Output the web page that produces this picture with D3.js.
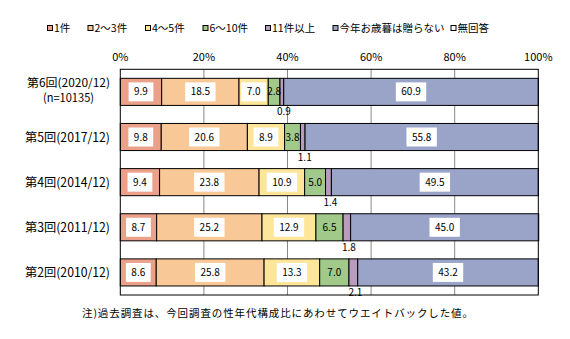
<!DOCTYPE html>
<html><head><meta charset="utf-8">
<script src="https://cdn.jsdelivr.net/npm/d3@7"></script>
<style>
body{margin:0;background:#fff;}
text{font-family:"MS Gothic","Noto Sans CJK JP",sans-serif;fill:#000;}
</style></head>
<body>
<svg id="c" width="570" height="339"></svg>
<script>
const categories = ["第6回(2020/12)", "第5回(2017/12)", "第4回(2014/12)", "第3回(2011/12)", "第2回(2010/12)"];
const subLabels = ["(n=10135)", "", "", "", ""];
const seriesNames = ["1件", "2～3件", "4～5件", "6～10件", "11件以上", "今年お歳暮は贈らない", "無回答"];
const seriesColors = ["#EBA08A", "#F9C897", "#FDE59A", "#A0C98A", "#B89BBE", "#9AA3C8", "#FFFFFF"];
const v1 = [9.9, 9.8, 9.4, 8.7, 8.6];
const v2_3 = [18.5, 20.6, 23.8, 25.2, 25.8];
const v4_5 = [7.0, 8.9, 10.9, 12.9, 13.3];
const v6_10 = [2.8, 3.8, 5.0, 6.5, 7.0];
const v11plus = [0.9, 1.1, 1.4, 1.8, 2.1];
const vNone = [60.9, 55.8, 49.5, 45.0, 43.2];
const vNA = [0, 0, 0, 0, 0];
const tickValues = [0, 20, 40, 60, 80, 100];
const note = "注)過去調査は、今回調査の性年代構成比にあわせてウエイトバックした値。";

const series = [v1, v2_3, v4_5, v6_10, v11plus, vNone, vNA];
const svg = d3.select("#c");
const L = 120.3, R = 538.3, T = 69.3, B = 295;
const x = d3.scaleLinear().domain([0, 100]).range([L, R]);
const y = d3.scaleBand().domain(categories).range([T, B]).paddingInner(0.4).paddingOuter(0.2);

// gridlines
svg.append("g").selectAll("line").data(tickValues.filter(t => t > 0 && t < 100)).join("line")
  .attr("x1", d => x(d)).attr("x2", d => x(d)).attr("y1", T).attr("y2", B)
  .attr("stroke", "#888").attr("stroke-width", 1);

// top axis labels
svg.append("g").selectAll("text").data(tickValues).join("text")
  .attr("x", d => x(d)).attr("y", 61).attr("text-anchor", "middle")
  .style("font-size", "11px").text(d => d + "%");

// stacked bars
const stackData = categories.map((c, i) => {
  let acc = 0;
  return series.map((s, k) => { const o = {cat: c, k, v: s[i], x0: acc, x1: acc + s[i]}; acc += s[i]; return o; });
});
const gBars = svg.append("g");
stackData.forEach(row => {
  row.forEach(seg => {
    if (seg.v <= 0) return;
    gBars.append("rect")
      .attr("x", x(seg.x0)).attr("y", y(seg.cat))
      .attr("width", x(seg.x1) - x(seg.x0)).attr("height", y.bandwidth())
      .attr("fill", seriesColors[seg.k]).attr("stroke", "#000").attr("stroke-width", 1);
  });
});

// labels
const gLab = svg.append("g");
stackData.forEach(row => {
  row.forEach(seg => {
    if (seg.v <= 0) return;
    const cx = (x(seg.x0) + x(seg.x1)) / 2;
    const cy = y(seg.cat) + y.bandwidth() / 2;
    const txt = seg.v.toFixed(1);
    if (seg.k === 4) {
      gLab.append("text").attr("x", cx + 2).attr("y", y(seg.cat) + y.bandwidth() + 10)
        .attr("text-anchor", "middle").style("font-size", "10px").text(txt);
    } else if (seg.k === 3) {
      gLab.append("text").attr("x", cx).attr("y", cy + 3.5)
        .attr("text-anchor", "middle").style("font-size", "10px").text(txt);
    } else {
      const w = txt.length * 5.6 + 8;
      gLab.append("rect").attr("x", cx - w / 2).attr("y", cy - 9.5).attr("width", w).attr("height", 19).attr("fill", "#fff");
      gLab.append("text").attr("x", cx).attr("y", cy + 3.5)
        .attr("text-anchor", "middle").style("font-size", "10px").text(txt);
    }
  });
});

// plot border
svg.append("rect").attr("x", L).attr("y", T).attr("width", R - L).attr("height", B - T)
  .attr("fill", "none").attr("stroke", "#000").attr("stroke-width", 1);

// category labels
function catText(str, right, yy, size, width) {
  svg.append("text").attr("x", right - width).attr("y", yy).style("font-size", size + "px")
    .attr("textLength", width).attr("lengthAdjust", "spacingAndGlyphs").text(str);
}
categories.forEach((c, i) => {
  const cy = y(c) + y.bandwidth() / 2;
  if (subLabels[i]) {
    catText(c, 110, cy - 4.5, 11.5, 83);
    catText(subLabels[i], 94, cy + 10.5, 11.5, 51);
  } else {
    catText(c, 110, cy + 4.5, 12.5, 85);
  }
});

// legend
const legendX = [47, 87.5, 145, 202.5, 265, 332.5, 450.5];
const lg = svg.append("g");
seriesNames.forEach((n, k) => {
  lg.append("rect").attr("x", legendX[k] + 0.5).attr("y", 25.5).attr("width", 5).attr("height", 5)
    .attr("fill", seriesColors[k]).attr("stroke", "#000").attr("stroke-width", 1);
  lg.append("text").attr("x", legendX[k] + 7).attr("y", 32).style("font-size", "10.5px").text(n);
});

// note
svg.append("text").attr("x", 82).attr("y", 317).style("font-size", "10.5px")
  .attr("textLength", 391).attr("lengthAdjust", "spacing").text(note);
</script>
</body></html>
